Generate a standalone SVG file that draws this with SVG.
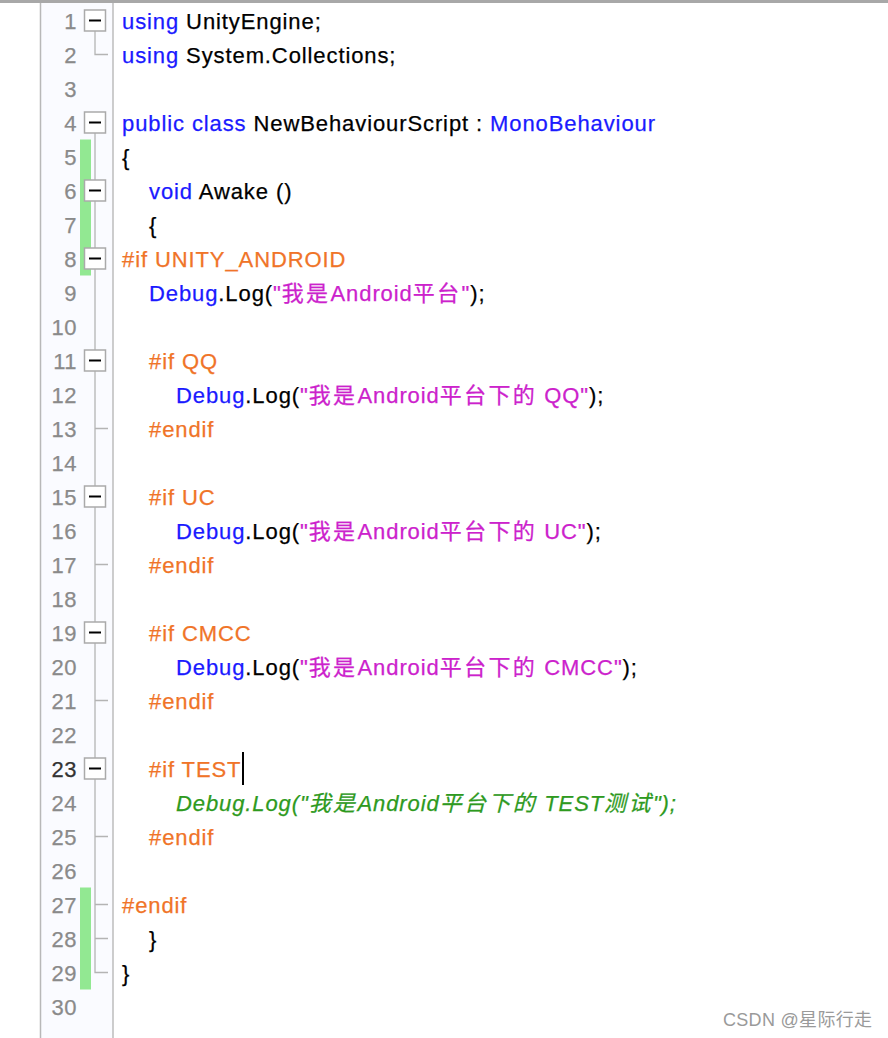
<svg xmlns="http://www.w3.org/2000/svg" width="888" height="1038" viewBox="0 0 888 1038">
<style>
text{font-family:"Liberation Sans","Noto Sans CJK SC",sans-serif;font-size:22px;letter-spacing:0.9px;stroke-width:0.25px}
.ln{fill:#8a8a8a;stroke:#8a8a8a;text-anchor:end;letter-spacing:0.5px}
.cur{fill:#333;stroke:#333}
.c{fill:#000;stroke:#000}
.k{fill:#1a1aff;stroke:#1a1aff}
.p{fill:#f07428;stroke:#f07428}
.s{fill:#cc22cc;stroke:#cc22cc}
.g{fill:#2e9a1e;stroke:#2e9a1e;font-style:italic}
.cj{letter-spacing:2.4px}
.box{fill:#fff;stroke:#aaa;stroke-width:1.5}
.minus{stroke:#000;stroke-width:2}
.fold{fill:none;stroke:#b4b4b4;stroke-width:1.3}
.wm{fill:#9a9a9a;font-size:18px;letter-spacing:0.3px;stroke:none}
</style>
<rect width="888" height="1038" fill="#fff"/>
<rect x="41" y="0" width="72" height="1038" fill="#fafbff"/>
<rect x="0" y="0" width="888" height="3" fill="#a8a8a8"/>
<line x1="40.5" y1="3" x2="40.5" y2="1038" stroke="#b8b8b8" stroke-width="1.5"/>
<line x1="113" y1="3" x2="113" y2="1038" stroke="#bcbcbc" stroke-width="1.5"/>
<g id="changes">
<rect x="80" y="139.5" width="11" height="136" fill="#92e892"/>
<rect x="80" y="887.5" width="11" height="102" fill="#92e892"/>
</g>
<g id="connectors">
<path class="fold" d="M95 31 V54.5 H108"/>
<path class="fold" d="M95 133 V972.5 H108"/>
<path class="fold" d="M95 428.5 H108 M95 564.5 H108 M95 700.5 H108 M95 836.5 H108 M95 904.5 H108 M95 938.5 H108"/>
</g>
<g id="folds">
<g id="fold1"><rect class="box" x="84.5" y="10" width="21" height="21"/><line class="minus" x1="89" y1="20.5" x2="101" y2="20.5"/></g>
<g id="fold4"><rect class="box" x="84.5" y="112" width="21" height="21"/><line class="minus" x1="89" y1="122.5" x2="101" y2="122.5"/></g>
<g id="fold6"><rect class="box" x="84.5" y="180" width="21" height="21"/><line class="minus" x1="89" y1="190.5" x2="101" y2="190.5"/></g>
<g id="fold8"><rect class="box" x="84.5" y="248" width="21" height="21"/><line class="minus" x1="89" y1="258.5" x2="101" y2="258.5"/></g>
<g id="fold11"><rect class="box" x="84.5" y="350" width="21" height="21"/><line class="minus" x1="89" y1="360.5" x2="101" y2="360.5"/></g>
<g id="fold15"><rect class="box" x="84.5" y="486" width="21" height="21"/><line class="minus" x1="89" y1="496.5" x2="101" y2="496.5"/></g>
<g id="fold19"><rect class="box" x="84.5" y="622" width="21" height="21"/><line class="minus" x1="89" y1="632.5" x2="101" y2="632.5"/></g>
<g id="fold23"><rect class="box" x="84.5" y="758" width="21" height="21"/><line class="minus" x1="89" y1="768.5" x2="101" y2="768.5"/></g>
</g>
<g id="linenumbers">
<text class="ln" x="77" y="29">1</text>
<text class="ln" x="77" y="63">2</text>
<text class="ln" x="77" y="97">3</text>
<text class="ln" x="77" y="131">4</text>
<text class="ln" x="77" y="165">5</text>
<text class="ln" x="77" y="199">6</text>
<text class="ln" x="77" y="233">7</text>
<text class="ln" x="77" y="267">8</text>
<text class="ln" x="77" y="301">9</text>
<text class="ln" x="77" y="335">10</text>
<text class="ln" x="77" y="369">11</text>
<text class="ln" x="77" y="403">12</text>
<text class="ln" x="77" y="437">13</text>
<text class="ln" x="77" y="471">14</text>
<text class="ln" x="77" y="505">15</text>
<text class="ln" x="77" y="539">16</text>
<text class="ln" x="77" y="573">17</text>
<text class="ln" x="77" y="607">18</text>
<text class="ln" x="77" y="641">19</text>
<text class="ln" x="77" y="675">20</text>
<text class="ln" x="77" y="709">21</text>
<text class="ln" x="77" y="743">22</text>
<text class="ln cur" x="77" y="777">23</text>
<text class="ln" x="77" y="811">24</text>
<text class="ln" x="77" y="845">25</text>
<text class="ln" x="77" y="879">26</text>
<text class="ln" x="77" y="913">27</text>
<text class="ln" x="77" y="947">28</text>
<text class="ln" x="77" y="981">29</text>
<text class="ln" x="77" y="1015">30</text>
</g>
<g id="code">
<text class="c" x="122" y="29"><tspan class="k">using</tspan> UnityEngine;</text>
<text class="c" x="122" y="63"><tspan class="k">using</tspan> System.Collections;</text>
<text class="c" x="122" y="131"><tspan class="k">public class</tspan> NewBehaviourScript : <tspan class="k">MonoBehaviour</tspan></text>
<text class="c" x="122" y="165">{</text>
<text class="c" x="149" y="199"><tspan class="k">void</tspan> Awake ()</text>
<text class="c" x="149" y="233">{</text>
<text class="p" x="122" y="267">#if UNITY_ANDROID</text>
<text class="c" x="149" y="301"><tspan class="k">Debug</tspan>.Log(<tspan class="s">"<tspan class="cj">我是</tspan>Android<tspan class="cj">平台</tspan>"</tspan>);</text>
<text class="p" x="149" y="369">#if QQ</text>
<text class="c" x="176" y="403"><tspan class="k">Debug</tspan>.Log(<tspan class="s">"<tspan class="cj">我是</tspan>Android<tspan class="cj">平台下的</tspan> QQ"</tspan>);</text>
<text class="p" x="149" y="437">#endif</text>
<text class="p" x="149" y="505">#if UC</text>
<text class="c" x="176" y="539"><tspan class="k">Debug</tspan>.Log(<tspan class="s">"<tspan class="cj">我是</tspan>Android<tspan class="cj">平台下的</tspan> UC"</tspan>);</text>
<text class="p" x="149" y="573">#endif</text>
<text class="p" x="149" y="641">#if CMCC</text>
<text class="c" x="176" y="675"><tspan class="k">Debug</tspan>.Log(<tspan class="s">"<tspan class="cj">我是</tspan>Android<tspan class="cj">平台下的</tspan> CMCC"</tspan>);</text>
<text class="p" x="149" y="709">#endif</text>
<text class="p" x="149" y="777">#if TEST</text>
<text class="g" x="176" y="811">Debug.Log("<tspan class="cj">我是</tspan>Android<tspan class="cj">平台下的</tspan> TEST<tspan class="cj">测试</tspan>");</text>
<text class="p" x="149" y="845">#endif</text>
<text class="p" x="122" y="913">#endif</text>
<text class="c" x="149" y="947">}</text>
<text class="c" x="122" y="981">}</text>
</g>
<line id="cursor" x1="243" y1="752" x2="243" y2="785" stroke="#000" stroke-width="2"/>
<text class="wm" x="723" y="1026">CSDN @星际行走</text>
</svg>
